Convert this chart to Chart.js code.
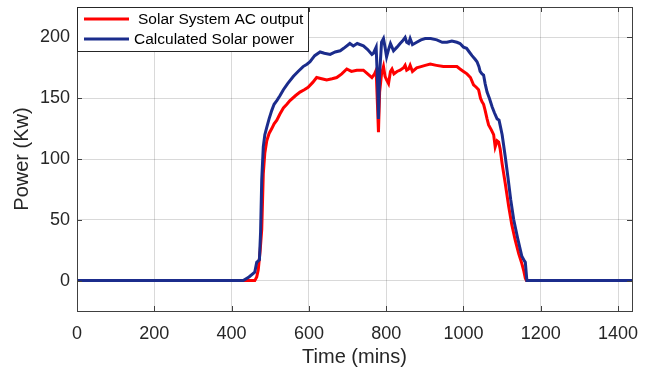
<!DOCTYPE html>
<html>
<head>
<meta charset="utf-8">
<script src="https://cdn.jsdelivr.net/npm/chart.js@4/dist/chart.umd.min.js"></script>
<style>
  html, body { margin: 0; padding: 0; background: #fff; }
  #wrap { width: 650px; height: 371px; }
</style>
</head>
<body>
<div id="wrap"><canvas id="chartContainer"></canvas></div>
<script>
"use strict";

// 1: data (minutes of the day, power in kW)
let acMinutes = [0, 460, 465, 469, 474, 478, 482, 486, 491, 497, 504, 510, 517, 525, 534, 543, 551, 565, 577, 588, 598, 610, 620, 633, 646, 660, 672, 685, 698, 710, 724, 741, 752, 763, 770, 774, 778, 780, 783, 788, 793, 797, 801, 806, 811, 815, 820, 828, 836, 845, 849, 853, 858, 862, 868, 879, 890, 901, 914, 930, 948, 965, 983, 991, 1000, 1009, 1018, 1026, 1033, 1039, 1044, 1048, 1052, 1056, 1061, 1065, 1072, 1078, 1082, 1087, 1091, 1095, 1100, 1108, 1117, 1125, 1134, 1143, 1151, 1156, 1160, 1163, 1436];
let acOutput = [0, 0, 3, 9, 25, 42, 88, 105, 115, 121, 125, 129, 132, 137, 142, 145, 148, 152, 155, 157, 159, 163, 167, 166, 165, 166, 167, 170, 174, 172, 173, 173, 170, 167, 170, 173, 140, 122, 155, 170, 176, 168, 165, 162, 172, 174, 170, 172, 173, 175, 177, 173, 174, 177, 172, 175, 176, 177, 178, 177, 176, 176, 176, 174, 172, 170, 167, 161, 159, 157, 150, 147, 145, 140, 133, 128, 124, 120, 110, 115, 114, 108, 96, 80, 61, 46, 33, 22, 14, 8, 2, 0, 0];

let calcMinutes = [0, 430, 445, 460, 465, 472, 475, 478, 482, 486, 491, 497, 504, 510, 517, 525, 534, 545, 560, 572, 585, 595, 603, 615, 629, 640, 655, 668, 681, 690, 706, 715, 725, 741, 752, 763, 767, 774, 778, 780, 783, 788, 793, 797, 801, 806, 811, 815, 819, 828, 836, 842, 849, 853, 858, 862, 868, 879, 890, 901, 915, 931, 945, 957, 970, 983, 991, 1000, 1008, 1015, 1022, 1030, 1035, 1040, 1043, 1048, 1052, 1056, 1061, 1067, 1074, 1080, 1087, 1092, 1096, 1100, 1108, 1115, 1122, 1130, 1140, 1151, 1158, 1160, 1164, 1436];
let calcPower = [0, 0, 3, 7, 15, 17, 40, 83, 110, 120, 126, 133, 140, 145, 148, 152, 157, 162, 168, 172, 176, 178, 180, 185, 188, 187, 186, 188, 189, 191, 195, 193, 195, 193, 190, 186, 187, 192, 160, 133, 170, 196, 199, 192, 184, 190, 195, 192, 189, 192, 195, 197, 200, 196, 195, 199, 194, 196, 198, 199, 199, 198, 196, 196, 197, 196, 195, 192, 191, 188, 185, 182, 180, 176, 172, 170, 169, 162, 155, 150, 143, 138, 133, 132, 126, 120, 102, 85, 67, 50, 35, 20, 16, 15, 0, 0];

let xTicks = [0, 200, 400, 600, 800, 1000, 1200, 1400];
let yTicks = [0, 50, 100, 150, 200];

// 2: prepare data for chart
function toPoints(xs, ys) {
  let points = [];
  for (let i = 0; i < xs.length; i++) {
    points.push({ x: xs[i], y: ys[i] });
  }
  return points;
}

// box round the plot with small inward ticks, and the legend inside it
const framePlugin = {
  id: 'frame',
  afterDatasetsDraw(chart) {
    const ctx = chart.ctx;
    const a = chart.chartArea;
    const xs = chart.scales.x;
    const ys = chart.scales.y;
    ctx.save();
    ctx.strokeStyle = '#404040';
    ctx.lineWidth = 1;
    ctx.beginPath();
    for (const v of xTicks) {
      const px = Math.round(xs.getPixelForValue(v)) + 0.5;
      ctx.moveTo(px, a.bottom); ctx.lineTo(px, a.bottom - 5);
      ctx.moveTo(px, a.top); ctx.lineTo(px, a.top + 5);
    }
    for (const v of yTicks) {
      const py = Math.round(ys.getPixelForValue(v)) + 0.5;
      ctx.moveTo(a.left, py); ctx.lineTo(a.left + 5, py);
      ctx.moveTo(a.right, py); ctx.lineTo(a.right - 5, py);
    }
    ctx.stroke();
    ctx.strokeRect(Math.round(a.left) + 0.5, Math.round(a.top) + 0.5,
      Math.round(a.right - a.left), Math.round(a.bottom - a.top));

    // legend
    const bx = Math.round(a.left) + 0.5, by = Math.round(a.top) + 0.5;
    const bw = 231, bh = 44;
    ctx.fillStyle = '#fff';
    ctx.fillRect(bx, by, bw, bh);
    ctx.strokeStyle = '#262626';
    ctx.strokeRect(bx, by, bw, bh);
    const items = [chart.data.datasets[1], chart.data.datasets[0]];
    const textX = [138, 134];
    ctx.font = '15.5px "Liberation Sans", Arial, sans-serif';
    ctx.textBaseline = 'middle';
    ctx.textAlign = 'left';
    items.forEach((ds, i) => {
      const y = a.top + 12 + i * 20;
      ctx.strokeStyle = ds.borderColor;
      ctx.lineWidth = 3;
      ctx.beginPath();
      ctx.moveTo(84, y);
      ctx.lineTo(129, y);
      ctx.stroke();
      ctx.fillStyle = '#000';
      ctx.fillText(ds.label, textX[i], y + 1);
    });
    ctx.restore();
  }
};

// 3: create and append the chart
function appendChart() {
  let chartContainer = document.getElementById('chartContainer');
  let chart = new Chart(chartContainer, {
    type: 'line',
    data: {
      datasets: [{
        label: 'Calculated Solar power',
        data: toPoints(calcMinutes, calcPower),
        borderColor: '#1b2c8c',
        borderWidth: 3,
        pointRadius: 0,
        tension: 0
      },
      {
        label: 'Solar System AC output',
        data: toPoints(acMinutes, acOutput),
        borderColor: '#ff0000',
        borderWidth: 3,
        pointRadius: 0,
        tension: 0
      }]
    },
    options: {
      responsive: true,
      maintainAspectRatio: false,
      animation: false,
      layout: { padding: { top: 7, right: 18, left: 0, bottom: 0 } },
      plugins: {
        legend: { display: false },
        tooltip: { enabled: false }
      },
      scales: {
        x: {
          type: 'linear',
          min: 0,
          max: 1436,
          afterBuildTicks: (scale) => { scale.ticks = xTicks.map(v => ({ value: v })); },
          afterFit: (scale) => {
            scale.height = 60;
            scale.paddingLeft = 0;
            scale.paddingRight = 0;
          },
          grid: { color: 'rgba(0,0,0,0.15)', drawTicks: false },
          border: { color: '#404040' },
          ticks: {
            padding: 12,
            maxRotation: 0,
            color: '#262626',
            callback: (v) => String(v),
            font: { family: '"Liberation Sans", Arial, sans-serif', size: 18 }
          },
          title: {
            display: true,
            text: 'Time (mins)',
            color: '#262626',
            padding: { top: 0, bottom: 2 },
            font: { family: '"Liberation Sans", Arial, sans-serif', size: 20 }
          }
        },
        y: {
          min: -25,
          max: 225,
          afterBuildTicks: (scale) => { scale.ticks = yTicks.map(v => ({ value: v })); },
          afterFit: (scale) => {
            scale.width = 77;
            scale.paddingTop = 0;
            scale.paddingBottom = 0;
          },
          grid: { color: 'rgba(0,0,0,0.15)', drawTicks: false },
          border: { color: '#404040' },
          ticks: {
            padding: 7,
            color: '#262626',
            callback: (v) => String(v),
            font: { family: '"Liberation Sans", Arial, sans-serif', size: 18 }
          },
          title: {
            display: true,
            text: 'Power (Kw)',
            color: '#262626',
            padding: { top: 10, bottom: 0 },
            font: { family: '"Liberation Sans", Arial, sans-serif', size: 20 }
          }
        }
      }
    },
    plugins: [framePlugin]
  });
  return chart;
}

appendChart();
</script>
</body>
</html>
